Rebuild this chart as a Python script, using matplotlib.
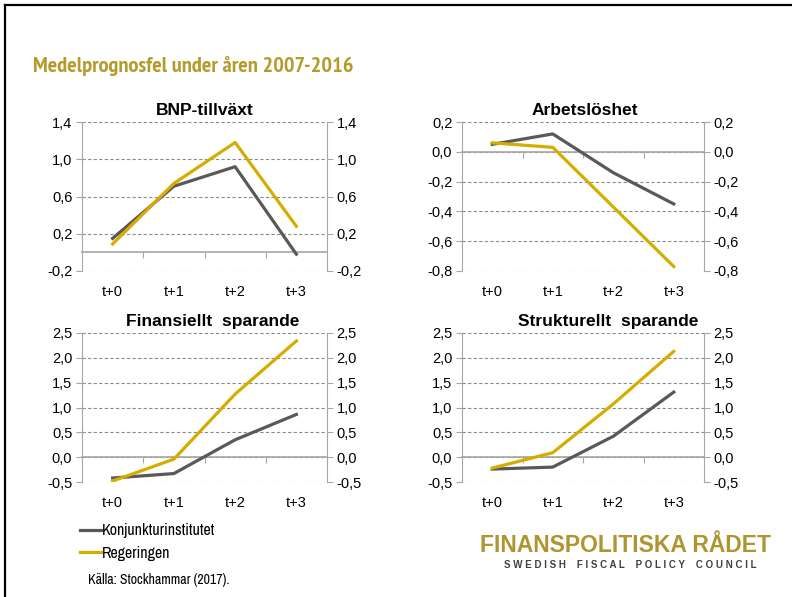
import numpy as np
import matplotlib
matplotlib.use("Agg")
import matplotlib.pyplot as plt  # noqa: E402
from matplotlib.lines import Line2D  # noqa: E402
from matplotlib.ticker import FuncFormatter  # noqa: E402

plt.rcParams["font.family"] = ["Liberation Sans", "DejaVu Sans"]
NARROW = ["Archivo Narrow", "Liberation Sans", "DejaVu Sans"]
NARROW_BOLD = ["PT Sans Narrow", "Archivo Narrow", "Liberation Sans", "DejaVu Sans"]

# data
periods = ["t+0", "t+1", "t+2", "t+3"]
bnp_ki = [0.15, 0.71, 0.92, -0.02]
bnp_reg = [0.09, 0.74, 1.18, 0.28]
arb_ki = [0.05, 0.12, -0.14, -0.35]
arb_reg = [0.06, 0.03, -0.37, -0.77]
fin_ki = [-0.42, -0.33, 0.35, 0.86]
fin_reg = [-0.48, -0.04, 1.27, 2.34]
str_ki = [-0.24, -0.20, 0.42, 1.31]
str_reg = [-0.22, 0.09, 1.07, 2.13]
series_names = ["Konjunkturinstitutet", "Regeringen"]

GRAY = "#595959"
GOLD = "#D4AD00"
SPINE = "#A6A6A6"
GRID = "#8C8C8C"
TITLE_GOLD = "#B59B2C"

W, H = 792, 597
fig = plt.figure(figsize=(W / 100, H / 100), dpi=100)
fig.patch.set_facecolor("white")


def px_axes(left, top, right, bottom):
    return fig.add_axes([left / W, 1 - bottom / H, (right - left) / W, (bottom - top) / H])


def comma_fmt(v, _):
    return f"{round(v, 1) + 0.0:.1f}".replace(".", ",")


fmt = FuncFormatter(comma_fmt)

panels = [
    ("BNP-tillväxt", bnp_ki, bnp_reg, (-0.2, 1.4), 0.4, (82, 122, 327, 271), 0.5),
    ("Arbetslöshet", arb_ki, arb_reg, (-0.8, 0.2), 0.2, (462, 122, 704, 271), 0.508),
    ("Finansiellt  sparande", fin_ki, fin_reg, (-0.5, 2.5), 0.5, (82, 333, 327, 482), 0.535),
    ("Strukturellt  sparande", str_ki, str_reg, (-0.5, 2.5), 0.5, (462, 333, 704, 482), 0.603),
]

handles = []
for title, ki, reg, (lo, hi), step, box, tx in panels:
    ax = px_axes(*box)
    x = np.arange(len(periods))
    ticks = np.arange(lo, hi + step / 2, step)

    ax.set_xlim(-0.5, len(periods) - 0.5)
    ax.set_ylim(lo, hi)
    ax.set_yticks(ticks)
    ax.yaxis.set_major_formatter(fmt)
    ax.set_axisbelow(True)
    ax.yaxis.grid(True, color=GRID, linestyle=(0, (3, 2)), linewidth=0.8)

    # zero line with ticks between the categories
    ax.spines["bottom"].set_position(("data", 0))
    ax.spines["bottom"].set_color(SPINE)
    ax.spines["bottom"].set_linewidth(1.2)
    ax.set_xticks(x[:-1] + 0.5)
    ax.set_xticklabels([])
    ax.tick_params(axis="x", length=4, color=SPINE, direction="out")

    for s in ("top", "right"):
        ax.spines[s].set_visible(False)
    ax.spines["left"].set_color(SPINE)
    ax.tick_params(axis="y", length=4, color=SPINE, labelsize=10.5, pad=3)

    # category labels at the bottom of the plot area
    sec = ax.secondary_xaxis(0.0)
    sec.set_xticks(x, periods)
    sec.tick_params(length=0, labelsize=10.5, pad=10)
    sec.spines["bottom"].set_visible(False)

    ax2 = ax.twinx()
    ax2.set_ylim(lo, hi)
    ax2.set_yticks(ticks)
    ax2.yaxis.set_major_formatter(fmt)
    for s in ("top", "left", "bottom"):
        ax2.spines[s].set_visible(False)
    ax2.spines["right"].set_color(SPINE)
    ax2.tick_params(axis="y", length=4, color=SPINE, labelsize=10.5, pad=3)

    l1, = ax.plot(x, ki, color=GRAY, linewidth=2.3, label=series_names[0], zorder=3)
    l2, = ax.plot(x, reg, color=GOLD, linewidth=2.3, label=series_names[1], zorder=3)
    handles = [l1, l2]

    ax.set_title(title, fontsize=12.5, fontweight="bold", x=tx, pad=5)

fig.text(33 / W, 1 - 66 / H, "Medelprognosfel under åren 2007-2016",
         family=NARROW_BOLD, fontsize=16.1, fontweight="bold", color=TITLE_GOLD,
         ha="left", va="center")

fig.legend(handles=handles, loc="upper left", bbox_to_anchor=(74 / W, 1 - 517 / H),
           frameon=False, prop={"family": NARROW, "size": 11.5},
           handlelength=1.3, handletextpad=0.05, labelspacing=0.45, borderaxespad=0)

fig.text(88 / W, 1 - 580 / H, "Källa: Stockhammar (2017).", family=NARROW,
         fontsize=10, ha="left", va="center")

fig.text(625 / W, 1 - 545 / H, "FINANSPOLITISKA RÅDET", fontsize=16.5,
         fontweight="bold", color="#AE9530", ha="center", va="center")
fig.text(630 / W, 1 - 565 / H,
         "S W E D I S H    F I S C A L    P O L I C Y    C O U N C I L",
         fontsize=7, fontweight="bold", color="#404040", ha="center", va="center")

# slide frame
fig.add_artist(Line2D([5 / W, 1], [1 - 5 / H, 1 - 5 / H], color="black", linewidth=1.6))
fig.add_artist(Line2D([5 / W, 5 / W], [0, 1 - 5 / H], color="black", linewidth=1.6))

fig.savefig("out.png", dpi=100, facecolor="white")
